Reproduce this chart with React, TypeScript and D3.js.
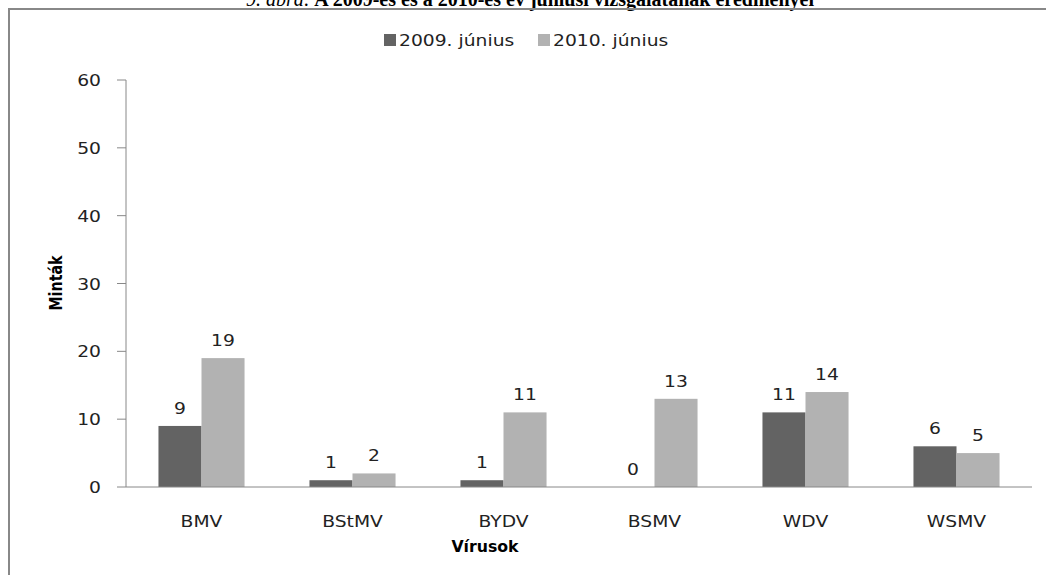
import React from "react";
import * as d3 from "d3";

const categories = ["BMV", "BStMV", "BYDV", "BSMV", "WDV", "WSMV"];
const seriesNames = ["2009. június", "2010. június"];
const values2009 = [9, 1, 1, 0, 11, 6];
const values2010 = [19, 2, 11, 13, 14, 5];
const yTicks = [0, 10, 20, 30, 40, 50, 60];
const colors = ["#636363", "#b2b2b2"];

const W = 1046;
const H = 575;
const font = "'DejaVu Sans', Verdana, sans-serif";
const SX = 1.17; // horizontal widening of the sans-serif labels

type LabelProps = {
  x: number;
  y: number;
  anchor?: "start" | "middle" | "end";
  size?: number;
  bold?: boolean;
  rotate?: number;
  sx?: number;
  fill?: string;
  children: React.ReactNode;
};

function Label({ x, y, anchor = "middle", size = 16, bold = false, rotate = 0, sx = SX, fill = "#222", children }: LabelProps) {
  return (
    <text
      transform={`translate(${x},${y}) rotate(${rotate}) scale(${sx},1)`}
      textAnchor={anchor}
      fontFamily={font}
      fontSize={size}
      fontWeight={bold ? "bold" : "normal"}
      fill={fill}
    >
      {children}
    </text>
  );
}

export default function App() {
  const x = d3
    .scaleBand<string>()
    .domain(categories)
    .range([126, 1032])
    .paddingInner(0.43)
    .paddingOuter(0.215);
  const sub = d3.scaleBand<number>().domain([0, 1]).range([0, x.bandwidth()]);
  const y = d3.scaleLinear().domain([0, 60]).range([487, 80]);
  const series = [values2009, values2010];

  return (
    <svg
      width={W}
      height={H}
      style={{ position: "absolute", left: 0, top: 0, background: "#fff" }}
    >
      {/* figure caption, running off the top edge */}
      <text
        x={530}
        y={6}
        textAnchor="middle"
        fontFamily="'Liberation Serif', 'Times New Roman', serif"
        fontSize={20}
        fill="#000"
      >
        <tspan fontStyle="italic">9. ábra:</tspan>
        <tspan fontWeight="bold"> A 2009-es és a 2010-es év júniusi vizsgálatának eredményei</tspan>
      </text>

      {/* chart frame */}
      <path d={`M9,${H} V9 H${W}`} fill="none" stroke="#888" strokeWidth={2} />

      {/* legend */}
      {seriesNames.map((name, i) => {
        const lx = 384 + i * 154;
        return (
          <g key={name}>
            <rect x={lx} y={34} width={12} height={12} fill={colors[i]} />
            <Label x={lx + 15} y={46} anchor="start">
              {name}
            </Label>
          </g>
        );
      })}

      {/* y axis */}
      <line x1={126} x2={126} y1={y(60)} y2={y(0)} stroke="#888" />
      {yTicks.map((t) => (
        <g key={t}>
          <line x1={117} x2={126} y1={y(t)} y2={y(t)} stroke="#888" />
          <Label x={101} y={y(t) + 6} anchor="end">
            {t}
          </Label>
        </g>
      ))}
      <Label x={62} y={283} rotate={-90} sx={0.84} size={17} bold fill="#000">
        Minták
      </Label>

      {/* bars and value labels */}
      {categories.map((c, ci) => (
        <g key={c}>
          {series.map((vals, si) => {
            const bx = (x(c) ?? 0) + (sub(si) ?? 0);
            const v = vals[ci];
            return (
              <g key={si}>
                <rect
                  x={bx}
                  y={y(v)}
                  width={sub.bandwidth()}
                  height={y(0) - y(v)}
                  fill={colors[si]}
                />
                <Label x={bx + sub.bandwidth() / 2} y={y(v) - 12}>
                  {v}
                </Label>
              </g>
            );
          })}
          <Label x={(x(c) ?? 0) + x.bandwidth() / 2} y={527}>
            {c}
          </Label>
        </g>
      ))}

      {/* x axis */}
      <line x1={126} x2={1032} y1={y(0)} y2={y(0)} stroke="#888" />
      <Label x={485} y={552} size={15} sx={1.05} bold fill="#000">
        Vírusok
      </Label>
    </svg>
  );
}
